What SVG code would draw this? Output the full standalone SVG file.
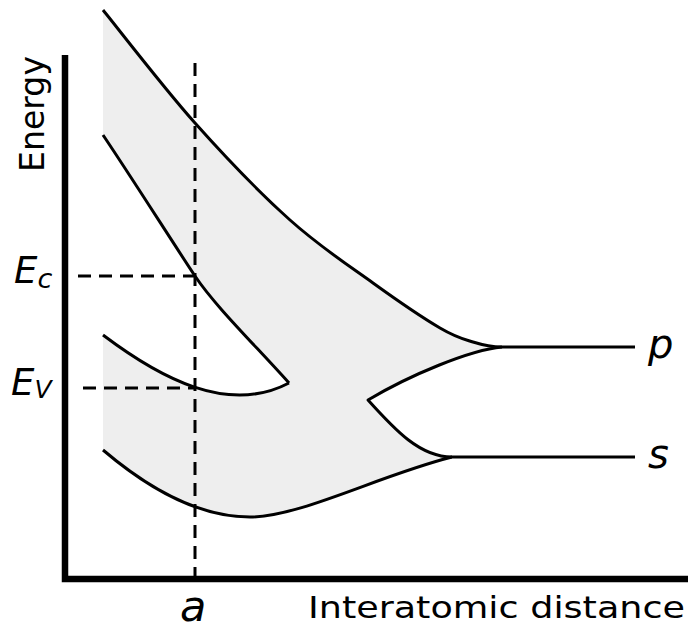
<svg xmlns="http://www.w3.org/2000/svg" width="688" height="630" viewBox="0 0 688 630">
<style>
.curve{fill:none;stroke:#000;stroke-width:3;stroke-linejoin:round;stroke-linecap:butt}
.dash{fill:none;stroke:#000;stroke-width:3;stroke-dasharray:13 8}
.axis{fill:none;stroke:#000;stroke-width:6.5;stroke-linejoin:miter}
text{font-family:"DejaVu Sans","Liberation Sans",sans-serif;fill:#000}
.it{font-style:italic}
</style>
<rect width="688" height="630" fill="#fff"/>
<g id="bands">
<path fill="#eeeeee" stroke="none" d="M103,10 C118.3,28.8 163.8,88 195,123 C226.2,158 260.3,193.3 290,220 C319.7,246.7 348,265 373,283 C398,301 423.3,318.2 440,328 C456.7,337.8 462.7,338.8 473,342 C483.3,345.2 495,347 502,347 C470,350 410,375 368,400 C395,430 420,457 452,457 C380,475 300,517 250,517 C200,517 150,490 103,450 L103,335 C160,378 228,415 289,383 C255,345 215,306 195,276 C175,246 130,175 103,135 Z"/>
</g>
<g id="connectors">
<path id="top-curve" class="curve" d="M103,10 C118.3,28.8 163.8,88 195,123 C226.2,158 260.3,193.3 290,220 C319.7,246.7 348,265 373,283 C398,301 423.3,318.2 440,328 C456.7,337.8 462.7,338.8 473,342 C483.3,345.2 495,347 502,347 L635,347"/>
<path id="cb-lower" class="curve" d="M103,135 C130,175 175,246 195,276 C215,306 255,345 289,383"/>
<path id="vb-upper" class="curve" d="M103,335 C160,378 228,415 289,383"/>
<path id="notch" class="curve" d="M502,347 C470,350 410,375 368,400 C395,430 420,457 452,457"/>
<path id="bottom-curve" class="curve" d="M103,450 C150,490 200,517 250,517 C300,517 380,475 452,457 L635,457"/>
<path id="dash-a" class="dash" d="M195,63 V579"/>
<path id="dash-ec" class="dash" d="M78,276 H195"/>
<path id="dash-ev" class="dash" d="M83,388 H195"/>
<path id="axes" class="axis" d="M65,55 V579 H688"/>
</g>
<g id="labels">
<text transform="translate(44,172) rotate(-90)" font-size="33" textLength="116" lengthAdjust="spacingAndGlyphs">Energy</text>
<text x="308" y="618" font-size="31" textLength="377" lengthAdjust="spacingAndGlyphs">Interatomic distance</text>
<text x="180" y="621" font-size="43" class="it">a</text>
<text x="648" y="358" font-size="40" class="it">p</text>
<text x="648" y="468" font-size="40" class="it">s</text>
<text x="14" y="283" font-size="37" class="it">E<tspan font-size="27" dy="5">c</tspan></text>
<text x="11" y="395" font-size="37" class="it">E<tspan font-size="25" dy="3">V</tspan></text>
</g>
</svg>
